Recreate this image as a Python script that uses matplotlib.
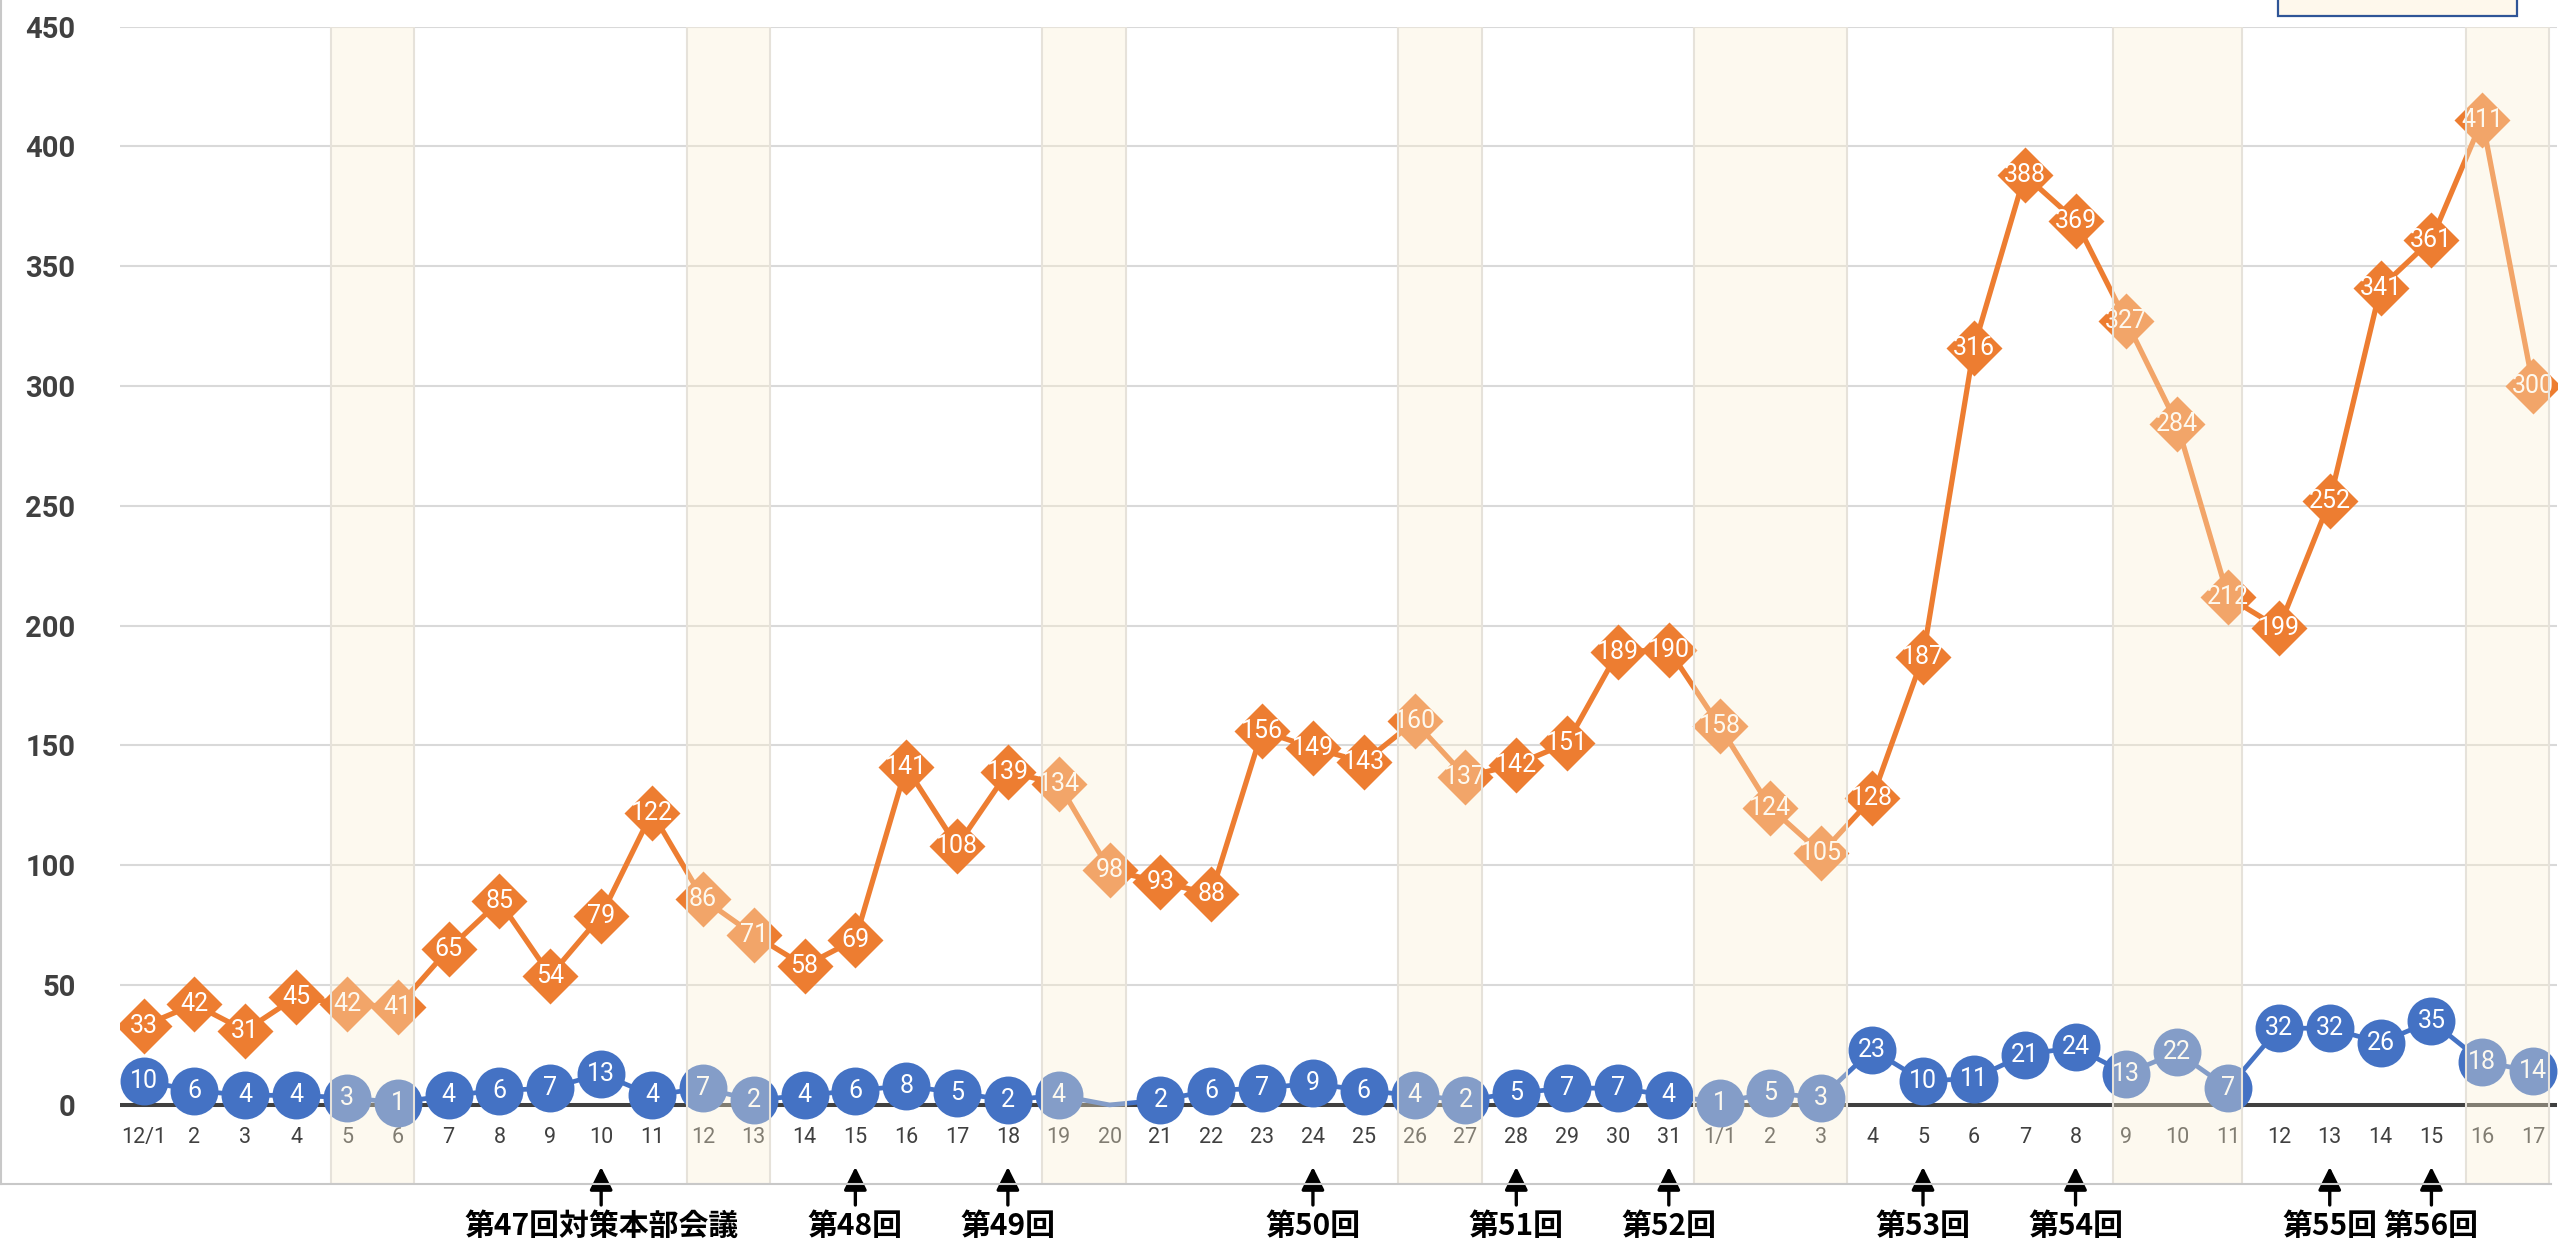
import matplotlib.pyplot as plt
import matplotlib.transforms as mtransforms
from matplotlib.patches import Rectangle, FancyArrowPatch
from matplotlib.lines import Line2D

plt.rcParams["font.family"] = ["Roboto", "DejaVu Sans"]

# day labels, 12/1 .. 1/17
dates = ["12/1", "2", "3", "4", "5", "6", "7", "8", "9", "10",
         "11", "12", "13", "14", "15", "16", "17", "18", "19", "20",
         "21", "22", "23", "24", "25", "26", "27", "28", "29", "30", "31",
         "1/1", "2", "3", "4", "5", "6", "7", "8", "9", "10",
         "11", "12", "13", "14", "15", "16", "17"]

orange = [33, 42, 31, 45, 42, 41, 65, 85, 54, 79,
          122, 86, 71, 58, 69, 141, 108, 139, 134, 98,
          93, 88, 156, 149, 143, 160, 137, 142, 151, 189, 190,
          158, 124, 105, 128, 187, 316, 388, 369, 327, 284,
          212, 199, 252, 341, 361, 411, 300]

blue = [10, 6, 4, 4, 3, 1, 4, 6, 7, 13,
        4, 7, 2, 4, 6, 8, 5, 2, 4, 0,
        2, 6, 7, 9, 6, 4, 2, 5, 7, 7, 4,
        1, 5, 3, 23, 10, 11, 21, 24, 13, 22,
        7, 32, 32, 26, 35, 18, 14]

# weekends / holidays (first and last day index)
holiday_spans = [(4, 5), (11, 12), (18, 19), (25, 26), (31, 33), (39, 41), (46, 47)]
band_inset = [0.18, 0.18, 0.18, 0.18, 0.0, 0.23, 0.18]

meetings = ["第47回対策本部会議", "第48回", "第49回", "第50回", "第51回",
            "第52回", "第53回", "第54回", "第55回", "第56回"]
meeting_idx = [9, 14, 17, 23, 27, 30, 35, 38, 43, 45]

W, H = 2560, 1240
fig = plt.figure(figsize=(W / 100, H / 100), dpi=100)
ax = fig.add_axes([120 / W, 1 - 1184 / H, (2557 - 120) / W, (1184 - 26.5) / H])

x = list(range(len(dates)))
ax.set_xlim(-0.464, 47.47)
ax.set_ylim(-33, 450)
for s in ax.spines.values():
    s.set_visible(False)
ax.set_xticks([])
ax.set_yticks(range(0, 451, 50))
ax.tick_params(axis="y", length=0, pad=32, labelsize=21, labelcolor="#404040")
for lab in ax.get_yticklabels():
    lab.set_fontweight("bold")

for v in range(50, 451, 50):
    ax.axhline(v, color="#D9D9D9", lw=1.5, zorder=1)
ax.axhline(0, color="#404040", lw=2.9, zorder=2)

# blue series
ax.plot(x, blue, color="#4472C4", lw=3.4, zorder=3)
bx = [i for i in x if blue[i] > 0]
ax.plot(bx, [blue[i] for i in bx], "o", ms=34.5, color="#4472C4", mec="none", zorder=4)

# orange series
ax.plot(x, orange, color="#ED7D31", lw=3.8, zorder=5)
ax.plot(x, orange, "D", ms=29, color="#ED7D31", mec="none", zorder=6)

for i in x:
    ax.text(i, orange[i], str(orange[i]), color="white", fontsize=18,
            ha="center", va="center", zorder=8)
    if blue[i] > 0:
        ax.text(i, blue[i], str(blue[i]), color="white", fontsize=18,
                ha="center", va="center", zorder=8)
    ax.text(i, -13.4, dates[i], color="#404040", fontsize=15.5,
            ha="center", va="center", zorder=2.5)

# translucent holiday bands on top
for (a, b), inset in zip(holiday_spans, band_inset):
    ax.add_patch(Rectangle((a - 0.5 + inset, -33), b - a + 1 - 2 * inset, 483,
                           facecolor=(252 / 255, 240 / 255, 210 / 255, 0.35),
                           edgecolor="#E6E2DA", lw=1.5, zorder=9))

# meeting arrows and labels (x in data, y in figure fraction)
trans = mtransforms.blended_transform_factory(ax.transData, fig.transFigure)
for i, name in zip(meeting_idx, meetings):
    arrow = FancyArrowPatch((i, 1 - 1205 / H), (i, 1 - 1167 / H), transform=trans,
                            arrowstyle="-|>,head_length=0.7,head_width=0.35",
                            mutation_scale=20, lw=2.4, color="black",
                            shrinkA=0, shrinkB=0, clip_on=False)
    fig.add_artist(arrow)
    fig.text(i, 1 - 1226 / H, name, transform=trans, ha="center", va="center",
             fontsize=21.5, fontweight="bold", family=["Noto Sans CJK JP"])

# chart frame and legend box
fig.add_artist(Line2D([1 / W, 1 / W], [1 - 1184 / H, 1], transform=fig.transFigure,
                      color="#C8C8C8", lw=1.5))
fig.add_artist(Line2D([0, 2551 / W], [1 - 1184 / H, 1 - 1184 / H],
                      transform=fig.transFigure, color="#C8C8C8", lw=1.5))
fig.add_artist(Rectangle((2278 / W, 1 - 16 / H), (2517 - 2278) / W, 20 / H,
                         transform=fig.transFigure, facecolor="#FEF8EC",
                         edgecolor="#2F5597", lw=1.6))

fig.savefig("out.png", dpi=100)
